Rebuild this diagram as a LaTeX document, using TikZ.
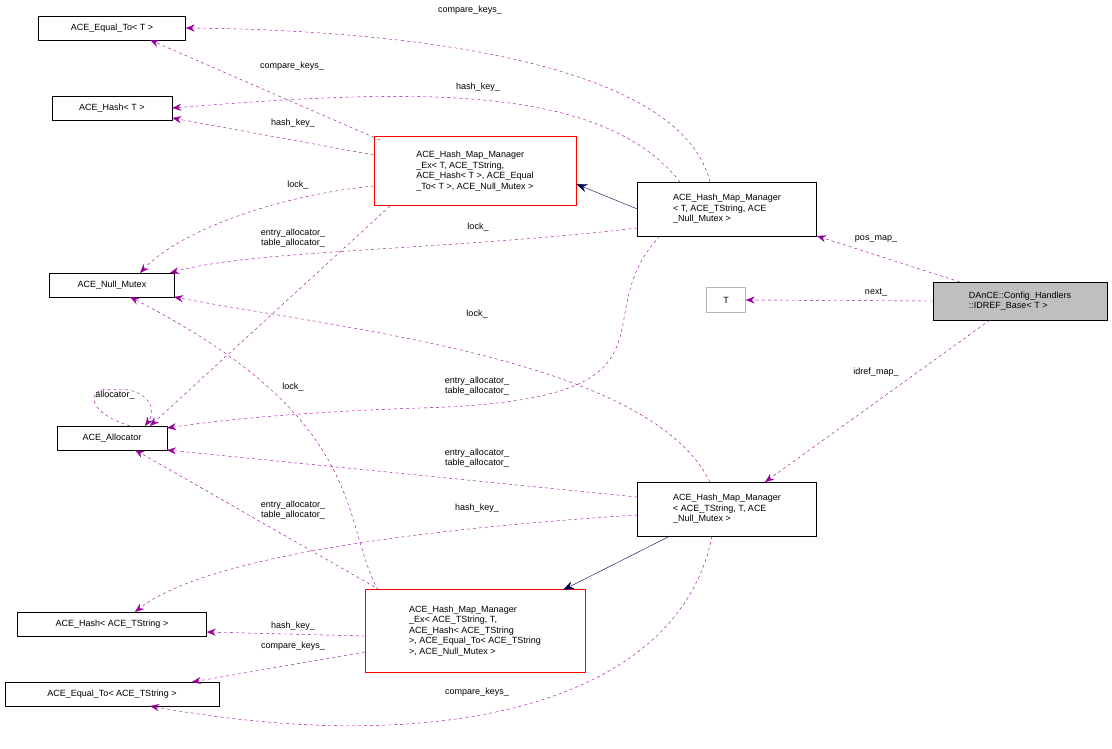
\documentclass[tikz,border=0pt]{standalone}
\usepackage{fontspec}
\setmainfont{Liberation Sans}
\usetikzlibrary{arrows.meta}
\begin{document}
\begin{tikzpicture}[x=1pt,y=-1pt, font=\fontsize{9}{10.5}\selectfont]
		% Styles
		\tikzset{cls/.style={draw=black,fill=white,inner sep=2pt,minimum height=24pt},
			redcls/.style={draw=red,fill=white,align=left,inner sep=3pt},
			blk/.style={draw=black,fill=white,align=left,inner sep=3pt},
			use/.style={draw=violet!80!magenta,dashed,-{Stealth[length=9pt,width=7pt]}},
			inh/.style={draw=blue!30!black,-{Stealth[length=11pt,width=8pt]}},
			lbl/.style={fill=none,inner sep=1pt,align=center,font=\fontsize{9}{9.5}\selectfont}}
		\useasboundingbox (0,0) rectangle (1112,748);

		% Classes on the left
		\node[cls,minimum width=147pt] (eqT) at (112,28) {ACE\_Equal\_To< T >};
		\node[cls,minimum width=120pt] (hashT) at (112,108) {ACE\_Hash< T >};
		\node[cls,minimum width=125pt] (mutex) at (112,285) {ACE\_Null\_Mutex};
		\node[cls,minimum width=110pt] (alloc) at (112,438) {ACE\_Allocator};
		\node[cls,minimum width=189pt] (hashS) at (112,624) {ACE\_Hash< ACE\_TString >};
		\node[cls,minimum width=214pt] (eqS) at (112,694) {ACE\_Equal\_To< ACE\_TString >};

		% Managers
		\node[redcls,minimum width=202pt,minimum height=69pt] (exT) at (475,171)
			{ACE\_Hash\_Map\_Manager\\\_Ex< T, ACE\_TString,\\ ACE\_Hash< T >, ACE\_Equal\\\_To< T >, ACE\_Null\_Mutex >};
		\node[redcls,minimum width=220pt,minimum height=83pt] (exS) at (475,631)
			{ACE\_Hash\_Map\_Manager\\\_Ex< ACE\_TString, T,\\ ACE\_Hash< ACE\_TString\\ >, ACE\_Equal\_To< ACE\_TString\\ >, ACE\_Null\_Mutex >};
		\node[blk,minimum width=179pt,minimum height=54pt] (mgrT) at (727,209)
			{ACE\_Hash\_Map\_Manager\\< T, ACE\_TString, ACE\\\_Null\_Mutex >};
		\node[blk,minimum width=179pt,minimum height=54pt] (mgrS) at (727,509)
			{ACE\_Hash\_Map\_Manager\\< ACE\_TString, T, ACE\\\_Null\_Mutex >};
		\node[draw=gray!60,minimum width=39pt,minimum height=25pt] (tparam) at (726,300) {T};
		\node[blk,fill=gray!50,minimum width=174pt,minimum height=38pt] (idref) at (1020,301)
			{DAnCE::Config\_Handlers\\::IDREF\_Base< T >};

		% Inheritance
		\draw[inh] (mgrT.west) -- (exT.east |- 0,184);
		\draw[inh] (670,536) coordinate (s1) -- (563,590) coordinate (e1);

		% Uses of the top manager
		\draw[use] (710,182) .. controls (680,60) and (400,30) .. (eqT.east);
		\draw[use] (680,182) .. controls (600,80) and (400,90) .. (hashT.east);
		\draw[use] (mgrT.west |- 0,228) .. controls (450,250) and (250,250) .. (170,273);
		\draw[use] (660,236) .. controls (580,320) and (700,400) .. (420,408) .. controls (300,412) and (220,420) .. (167,428);
		\draw[use] (380,140) -- (150,40);
		\draw[use] (exT.west |- 0,155) -- (hashT.east |- 0,118);
		\draw[use] (exT.west |- 0,186) .. controls (280,195) and (180,230) .. (140,273);
		\draw[use] (390,206) -- (150,426);
		\draw[use] (130,426) .. controls (80,410) and (90,385) .. (112,390) .. controls (140,385) and (160,405) .. (145,426);

		% Uses of the bottom manager
		\draw[use] (710,482) .. controls (650,360) and (350,330) .. (174,297);
		\draw[use] (mgrS.west |- 0,497) -- (167,450);
		\draw[use] (mgrS.west |- 0,515) .. controls (400,530) and (200,560) .. (135,612);
		\draw[use] (712,536) .. controls (680,700) and (450,760) .. (150,706);
		\draw[use] (378,590) .. controls (340,520) and (370,420) .. (130,297);
		\draw[use] (380,590) -- (135,450);
		\draw[use] (exS.west |- 0,636) -- (hashS.east |- 0,632);
		\draw[use] (exS.west |- 0,652) -- (192,682);

		% Uses of the IDREF base
		\draw[use] (960,282) -- (817,236);
		\draw[use] (idref.west) -- (tparam.east);
		\draw[use] (990,320) -- (765,482);

		% Labels
		\node[lbl] (l1) at (470,10) {compare\_keys\_};
		\node[lbl] (l2) at (292,66) {compare\_keys\_};
		\node[lbl] (l3) at (478,87) {hash\_key\_};
		\node[lbl] (l4) at (293,123) {hash\_key\_};
		\node[lbl] (l5) at (298,185) {lock\_};
		\node[lbl] (l6) at (293,238) {entry\_allocator\_\\table\_allocator\_};
		\node[lbl] (l7) at (478,227) {lock\_};
		\node[lbl] (l8) at (115,395) {allocator\_};
		\node[lbl] (l9) at (477,386) {entry\_allocator\_\\table\_allocator\_};
		\node[lbl] (l10) at (477,314) {lock\_};
		\node[lbl] (l11) at (293,387) {lock\_};
		\node[lbl] (l12) at (477,458) {entry\_allocator\_\\table\_allocator\_};
		\node[lbl] (l13) at (293,510) {entry\_allocator\_\\table\_allocator\_};
		\node[lbl] (l14) at (477,508) {hash\_key\_};
		\node[lbl] (l15) at (293,626) {hash\_key\_};
		\node[lbl] (l16) at (293,646) {compare\_keys\_};
		\node[lbl] (l17) at (477,692) {compare\_keys\_};
		\node[lbl] (l18) at (876,239) {pos\_map\_};
		\node[lbl] (l19) at (876,292) {next\_};
		\node[lbl] (l20) at (876,372) {idref\_map\_};
	\end{tikzpicture}
\end{document}
